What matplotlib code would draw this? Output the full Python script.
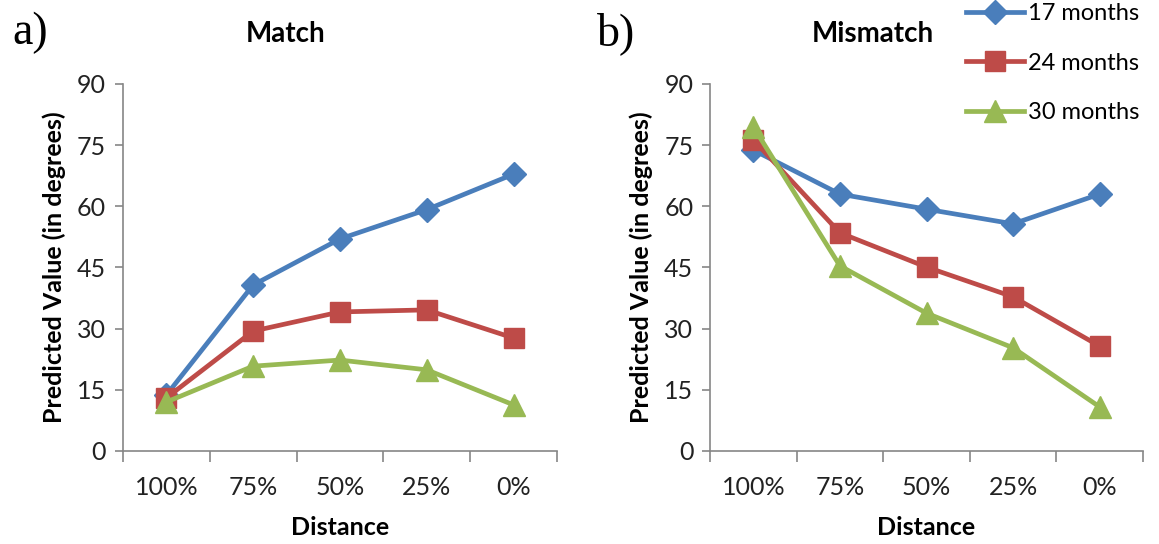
import matplotlib.pyplot as plt
import numpy as np

plt.rcParams['font.family'] = ['Lato', 'DejaVu Sans']

distances = ['100%', '75%', '50%', '25%', '0%']
series_names = ['17 months', '24 months', '30 months']

match_17 = [13.7, 40.7, 52.0, 59.2, 67.9]
match_24 = [13.0, 29.4, 34.1, 34.6, 27.7]
match_30 = [12.0, 20.8, 22.3, 19.9, 11.3]

mismatch_17 = [73.8, 63.0, 59.3, 55.7, 63.0]
mismatch_24 = [76.3, 53.5, 45.1, 37.8, 25.7]
mismatch_30 = [79.5, 45.4, 33.8, 25.3, 10.8]

colors = ['#4A7EBB', '#BE4B48', '#98B954']
markers = ['D', 's', '^']
msizes = [12, 15, 16]

fig = plt.figure(figsize=(11.59, 5.44), dpi=100)
ax1 = fig.add_axes([0.106, 0.171, 0.3746, 0.6746])
ax2 = fig.add_axes([0.6126, 0.171, 0.3736, 0.6746])

x = np.arange(len(distances))
grey = '#868686'

panels = [
    (ax1, 'Match', 'a)', 0.011, [match_17, match_24, match_30]),
    (ax2, 'Mismatch', 'b)', 0.515, [mismatch_17, mismatch_24, mismatch_30]),
]

for ax, title, tag, tag_x, data in panels:
    for vals, c, m, ms, name in zip(data, colors, markers, msizes, series_names):
        ax.plot(x, vals, color=c, lw=3.4, marker=m, markersize=ms, label=name,
                markeredgecolor=c)
    ax.set_xlim(-0.5, 4.5)
    ax.set_ylim(0, 90)
    ax.set_yticks(range(0, 91, 15))
    ax.set_xticks(x)
    ax.set_xticklabels(distances)
    ax.set_xticks(np.arange(-0.5, 5, 1), minor=True)
    ax.tick_params(axis='x', which='major', length=0, pad=18, labelsize=18, colors='#222222')
    ax.tick_params(axis='x', which='minor', length=8, color=grey, width=1.2)
    ax.tick_params(axis='y', length=6, color=grey, width=1.2, labelsize=18, pad=6, labelcolor='#222222')
    for s in ['top', 'right']:
        ax.spines[s].set_visible(False)
    for s in ['left', 'bottom']:
        ax.spines[s].set_color(grey)
        ax.spines[s].set_linewidth(1.2)
    ax.set_title(title, fontsize=20, fontweight='bold', x=0.375, pad=30)
    ax.set_xlabel('Distance', fontsize=18, fontweight='bold', labelpad=12)
    ax.set_ylabel('Predicted Value (in degrees)', fontsize=18, fontweight='bold', labelpad=8)
    fig.text(tag_x, 0.978, tag, fontsize=33, family='Liberation Serif', va='top', ha='left')

handles, labels = ax2.get_legend_handles_labels()
fig.legend(handles, labels, loc='upper left', bbox_to_anchor=(0.815, 1.033),
           frameon=False, fontsize=17, labelspacing=1.2, handlelength=2.45,
           handletextpad=0.2)

fig.savefig('out.png', dpi=100)
